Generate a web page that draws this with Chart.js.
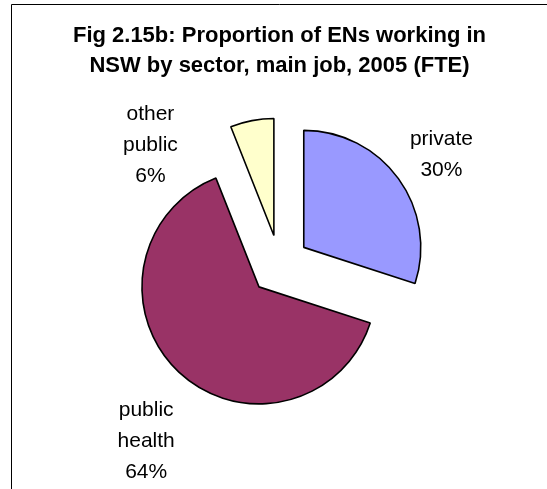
<!DOCTYPE html>
<html>
<head>
<meta charset="utf-8">
<script src="https://cdn.jsdelivr.net/npm/chart.js@4"></script>
<style>
  html, body { margin: 0; padding: 0; background: #fff; }
  #sectorPie { display: block; }
</style>
</head>
<body>
<canvas id="sectorPie" width="547" height="489"></canvas>
<script>
const sectors = ["private", "public health", "other public"];
const shares = [30, 64, 6]; // % of FTE
const sliceColours = ["#9999FF", "#993366", "#FFFFCC"];

const titleLines = ["Fig 2.15b: Proportion of ENs working in", "NSW by sector, main job, 2005 (FTE)"];

// how far each slice is pulled out from the centre
const explode = 30;
// label placement around each slice: distance from slice tip, and turn (deg) off the bisector
const labelSpots = [
    { dist: 166, turn: 2 },
    { dist: 191, turn: -7 },
    { dist: 153, turn: -43 }
];

const FONT = "'Liberation Sans', Arial, sans-serif";

// thin frame round the chart (left and top edges show)
const framePlugin = {
    id: 'frame',
    beforeDraw(chart) {
        const ctx = chart.ctx;
        ctx.save();
        ctx.strokeStyle = '#000';
        ctx.lineWidth = 1;
        ctx.beginPath();
        ctx.moveTo(11.5, chart.height + 2);
        ctx.lineTo(11.5, 4.5);
        ctx.lineTo(chart.width + 2, 4.5);
        ctx.stroke();
        ctx.restore();
    }
};

// pull every slice out along its own bisector
const explodePlugin = {
    id: 'explodeSlices',
    afterDatasetUpdate(chart, args) {
        args.meta.data.forEach(arc => {
            const mid = (arc.startAngle + arc.endAngle) / 2;
            arc.x += Math.cos(mid) * explode;
            arc.y += Math.sin(mid) * explode;
        });
    }
};

// category name + percentage written beside each slice
const sliceLabelPlugin = {
    id: 'sliceLabels',
    afterDatasetsDraw(chart) {
        const ctx = chart.ctx;
        const arcs = chart.getDatasetMeta(0).data;
        ctx.save();
        ctx.font = '21px ' + FONT;
        ctx.fillStyle = '#000';
        ctx.textAlign = 'center';
        ctx.textBaseline = 'middle';
        arcs.forEach((arc, i) => {
            const spot = labelSpots[i];
            const a = (arc.startAngle + arc.endAngle) / 2 + spot.turn * Math.PI / 180;
            const cx = arc.x + Math.cos(a) * spot.dist;
            const cy = arc.y + Math.sin(a) * spot.dist;
            const lines = sectors[i].split(' ').concat([shares[i] + '%']);
            const lh = 31;
            lines.forEach((t, k) => {
                ctx.fillText(t, cx, cy + (k - (lines.length - 1) / 2) * lh);
            });
        });
        ctx.restore();
    }
};

new Chart(document.getElementById('sectorPie'), {
    type: 'pie',
    data: {
        labels: sectors,
        datasets: [{
            data: shares,
            backgroundColor: sliceColours,
            borderColor: '#000',
            borderWidth: 1.6
        }]
    },
    options: {
        responsive: false,
        animation: false,
        radius: 117,
        layout: { padding: { left: 12, right: 0, top: 0, bottom: 40 } },
        plugins: {
            legend: { display: false },
            tooltip: { enabled: false },
            title: {
                display: true,
                text: titleLines,
                color: '#000',
                font: { family: FONT, size: 22, weight: 'bold', lineHeight: 30 / 22 },
                padding: { top: 21, bottom: 0 }
            }
        }
    },
    plugins: [framePlugin, explodePlugin, sliceLabelPlugin]
});
</script>
</body>
</html>
